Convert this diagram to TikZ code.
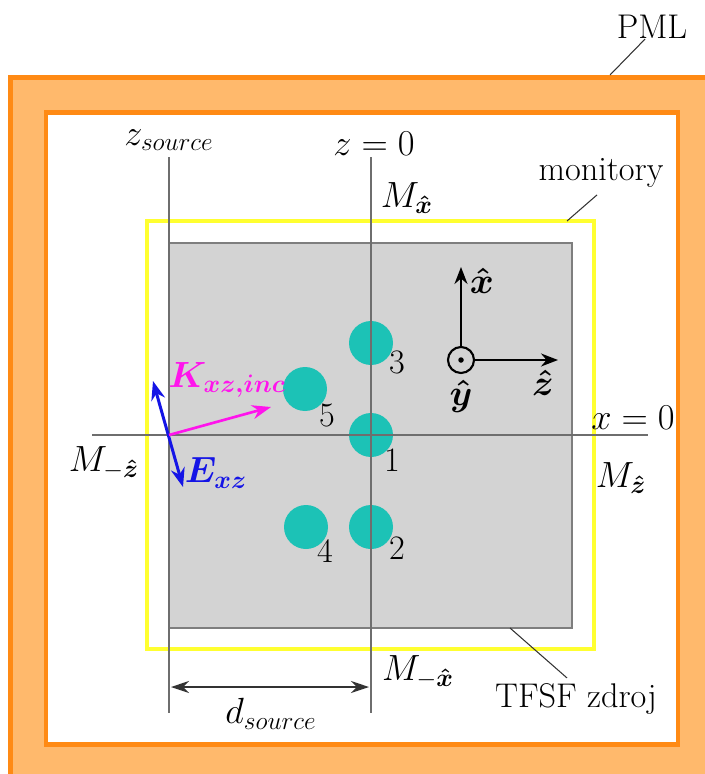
\documentclass[tikz,border=0pt]{standalone}
\usepackage{amsmath,amssymb}
\usepackage{bm}
\usepackage{tikz}
\usetikzlibrary{arrows.meta,positioning,calc}
\definecolor{pmlfill}{HTML}{FFB96C}
\definecolor{pmledge}{HTML}{FF8A14}
\definecolor{monyellow}{HTML}{FFFF30}
\definecolor{tfsffill}{HTML}{D3D3D3}
\definecolor{tfsfedge}{HTML}{7E7E7E}
\definecolor{rodteal}{HTML}{1CC2B6}
\definecolor{kmag}{HTML}{FF14EC}
\definecolor{eblue}{HTML}{1414E6}
\definecolor{axisgray}{HTML}{6E6E6E}
\tikzset{
  lbl/.style={font=\fontsize{19.5}{23}\selectfont,inner sep=0pt},
  rod/.style={circle,fill=rodteal,inner sep=0pt,minimum size=8.8mm},
  axisline/.style={draw=axisgray,line width=0.6pt},
  leader/.style={draw=black!80,line width=0.6pt},
  triad/.style={-{Stealth[length=3.4mm,width=2.6mm]},line width=1.2pt},
  dimarr/.style={{Stealth[length=3.6mm,width=2.4mm]}-{Stealth[length=3.6mm,width=2.4mm]},
                 line width=0.9pt,draw=black!80},
  karr/.style={-{Stealth[length=3.8mm,width=2.8mm]},line width=1.5pt,draw=kmag},
  earr/.style={{Stealth[length=3.8mm,width=2.8mm]}-{Stealth[length=3.8mm,width=2.8mm]},
               line width=1.7pt,draw=eblue}
}
\begin{document}
\begin{tikzpicture}[x=0.02cm,y=-0.02cm]
    \path[use as bounding box] (0,0) rectangle (705,774);

    % PML layer
    \fill[pmlfill] (10.5,77.5) rectangle (705,774);
    \draw[pmledge,line width=2.8pt] (10.5,774) -- (10.5,77.5) -- (705,77.5);
    \filldraw[fill=white,draw=pmledge,line width=2.8pt] (46,112.5) rectangle (678,744.5);

    % monitors and TFSF box
    \draw[monyellow,line width=1.8pt] (147,221) rectangle (594,649);
    \filldraw[fill=tfsffill,draw=tfsfedge,line width=1pt] (169,243) rectangle (572,628);

    % scatterers
    \node[rod] (r1) at (371,435) {};
    \node[rod] (r2) at (371,527) {};
    \node[rod] (r3) at (371,343) {};
    \node[rod] (r4) at (306,527) {};
    \node[rod] (r5) at (305,389) {};
    \node[lbl] (n1) at (392,460) {1};
    \node[lbl] (n2) at (397,548) {2};
    \node[lbl] (n3) at (397,362) {3};
    \node[lbl] (n4) at (325,551) {4};
    \node[lbl] (n5) at (327,415) {5};

    % reference lines
    \node[lbl] (zsrc) at (169,140) {$z_{source}$};
    \node[lbl] (zzero) at (374,144) {$z=0$};
    \node[lbl] (xzero) at (633,418) {$x=0$};
    \coordinate (zsrctop) at (169,157);
    \coordinate (zsrcend) at (169,713);
    \coordinate (zzerotop) at (371,157);
    \coordinate (zzeroend) at (371,713);
    \coordinate (xleft) at (92,435);
    \coordinate (xright) at (648,435);
    \draw[axisline] (zsrctop) -- (zsrcend);
    \draw[axisline] (zzerotop) -- (zzeroend);
    \draw[axisline] (xleft) -- (xright);

    % monitor labels
    \node[lbl] (mx) at (407,198) {$M_{\bm{\hat{x}}}$};
    \node[lbl] (mmx) at (418,672) {$M_{-\bm{\hat{x}}}$};
    \node[lbl] (mz) at (621,478) {$M_{\bm{\hat{z}}}$};
    \node[lbl] (mmz) at (104,463) {$M_{-\bm{\hat{z}}}$};

    % coordinate triad
    \node[circle,draw,line width=1.2pt,inner sep=0pt,minimum size=5.2mm] (yorig) at (461,360) {};
    \node[circle,fill,inner sep=0pt,minimum size=1.1mm] (ydot) at (yorig) {};
    \coordinate (xtip) at (461,267);
    \coordinate (ztip) at (558,360);
    \draw[triad] (yorig.north) -- (xtip);
    \draw[triad] (yorig.east) -- (ztip);
    \node[lbl] (xhat) at (482,281) {$\bm{\hat{x}}$};
    \node[lbl] (zhat) at (543,383) {$\bm{\hat{z}}$};
    \node[lbl] (yhat) at (461,396) {$\bm{\hat{y}}$};

    % incident plane wave
    \coordinate (src) at (169,435);
    \coordinate (ktip) at (271,407);
    \coordinate (etop) at (153,381);
    \coordinate (ebot) at (183,487);
    \draw[earr] (etop) -- (ebot);
    \draw[karr] (src) -- (ktip);
    \node[lbl,text=kmag] (klbl) at (227,380) {$\bm{K_{xz,inc}}$};
    \node[lbl,text=eblue] (elbl) at (216,473) {$\bm{E_{xz}}$};

    % source distance
    \coordinate (dleft) at (171,687);
    \coordinate (dright) at (369,687);
    \draw[dimarr] (dleft) -- (dright);
    \node[lbl] (dsrc) at (271,714) {$d_{source}$};

    % callouts
    \node[lbl] (pml) at (652,27) {PML};
    \coordinate (pmlpt) at (610,75);
    \draw[leader] (pml.240) -- (pmlpt);
    \node[lbl] (mon) at (601,173) {monitory};
    \coordinate (monpt) at (567,221);
    \draw[leader] ([yshift=-4pt]mon.south) ++(-4,0) -- (monpt);
    \node[lbl] (tfsf) at (576,699) {TFSF zdroj};
    \coordinate (tfsfpt) at (510,628);
    \draw[leader] ([yshift=3pt]tfsf.north -| 567,0) -- (tfsfpt);
\end{tikzpicture}
\end{document}
